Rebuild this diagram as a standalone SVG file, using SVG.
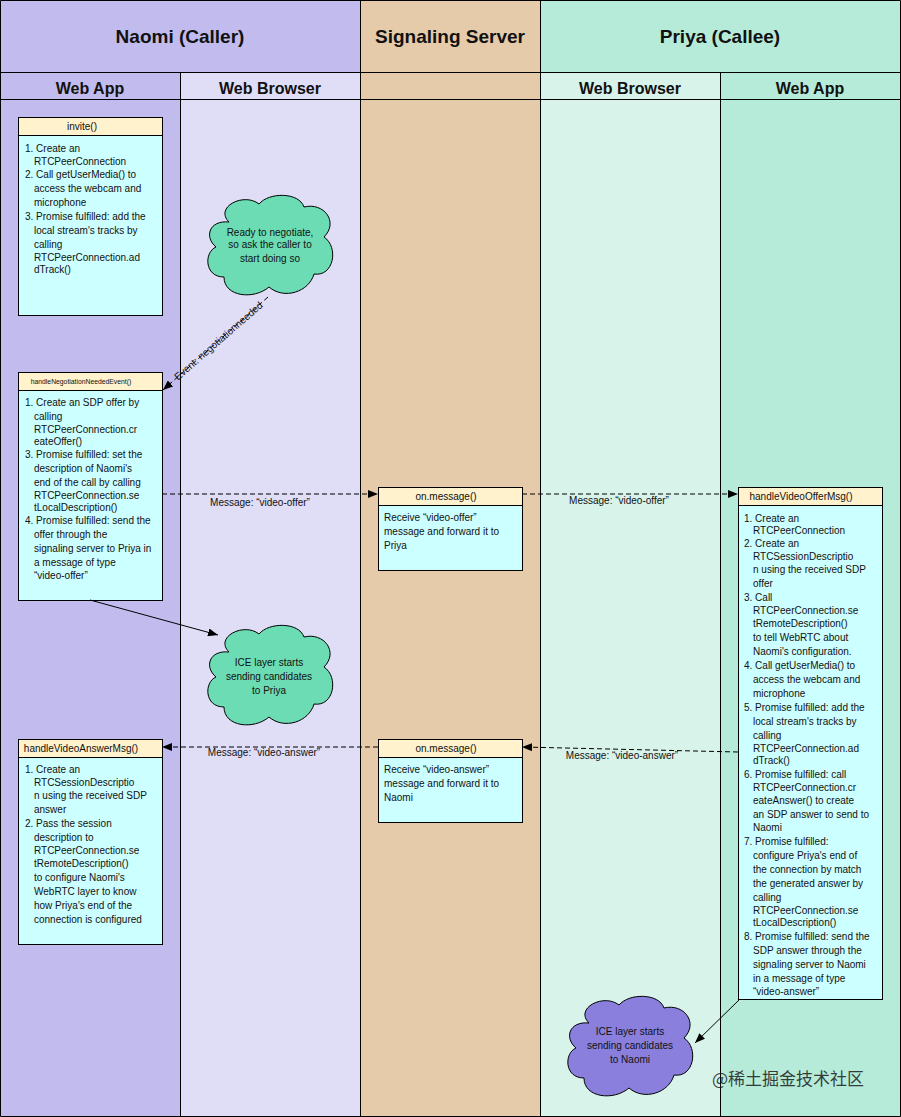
<svg xmlns="http://www.w3.org/2000/svg" width="901" height="1117" viewBox="0 0 901 1117">
<style>
text{font-family:"Liberation Sans",Arial,sans-serif;fill:#111}
.t1{font-size:19px;font-weight:bold;text-anchor:middle}
.t2{font-size:16px;font-weight:bold;text-anchor:middle}
.hd{fill:#fff2cc;stroke:#000;stroke-width:1}
.bd{fill:#ccffff;stroke:#000;stroke-width:1}
.ht{font-size:10px;text-anchor:middle}
.b{font-size:10px}
.ln{stroke:#000;stroke-width:1;fill:none}
.ds{stroke-dasharray:5,3}
.lb{font-size:10px}
.cl{stroke:#000;stroke-width:1}
</style>
<defs>
<marker id="ah" markerWidth="10" markerHeight="8" refX="10" refY="4" orient="auto" markerUnits="userSpaceOnUse"><path d="M0,0 L10,4 L0,8 Z" fill="#000"/></marker>
<path id="cloud" d="M25 30 C10 15 40 0 55 12 C65 0 95 0 100 15 C120 10 135 30 120 45 C135 55 130 85 110 82 C105 100 80 108 65 95 C50 108 20 105 20 85 C0 85 0 60 12 55 C0 45 5 28 25 30 Z"/>
</defs>
<g id="lanes">
<rect x="0" y="0" width="180" height="1117" fill="#c2bcee"/>
<rect x="180" y="0" width="180" height="1117" fill="#e0ddf7"/>
<rect x="360" y="0" width="180" height="1117" fill="#e6cbab"/>
<rect x="540" y="0" width="180" height="1117" fill="#d8f3ea"/>
<rect x="720" y="0" width="181" height="1117" fill="#b7ebd9"/>
<rect x="0" y="0" width="360" height="72" fill="#c2bcee"/>
<rect x="540" y="0" width="361" height="72" fill="#b7ebd9"/>
<g class="ln"><path d="M0.5 0.5 H900.5 V1116.5 H0.5 Z M0 72.5 H901 M0 99.5 H901 M180.5 72 V1117 M360.5 0 V1117 M540.5 0 V1117 M720.5 72 V1117"/></g>
<text class="t1" x="180" y="43">Naomi (Caller)</text>
<text class="t1" x="450" y="43">Signaling Server</text>
<text class="t1" x="720" y="43">Priya (Callee)</text>
<text class="t2" x="90" y="94">Web App</text>
<text class="t2" x="270" y="94">Web Browser</text>
<text class="t2" x="630" y="94">Web Browser</text>
<text class="t2" x="810" y="94">Web App</text>
</g>
<g id="invite">
<rect class="bd" x="18.5" y="117.5" width="144" height="198"/>
<rect class="hd" x="18.5" y="117.5" width="144" height="18"/>
<text class="ht" x="82" y="130">invite()</text>
<text class="b" x="25" y="152">1. Create an</text>
<text class="b" x="34" y="165">RTCPeerConnection</text>
<text class="b" x="25" y="178">2. Call getUserMedia() to</text>
<text class="b" x="34" y="192">access the webcam and</text>
<text class="b" x="34" y="206">microphone</text>
<text class="b" x="25" y="220">3. Promise fulfilled: add the</text>
<text class="b" x="34" y="234">local stream's tracks by</text>
<text class="b" x="34" y="248">calling</text>
<text class="b" x="34" y="261">RTCPeerConnection.ad</text>
<text class="b" x="34" y="273">dTrack()</text>
</g>
<g id="cloudReady">
<use href="#cloud" transform="translate(204,192)" fill="#6cdcb4" class="cl"/>
<text class="lb" x="270" y="236" text-anchor="middle">Ready to negotiate,</text>
<text class="lb" x="270" y="248" text-anchor="middle">so ask the caller to</text>
<text class="lb" x="270" y="262" text-anchor="middle">start doing so</text>
</g>
<g id="negotiation">
<rect class="bd" x="18.5" y="372.5" width="144" height="228"/>
<rect class="hd" x="18.5" y="372.5" width="144" height="18"/>
<text x="81" y="384" font-size="6.8" text-anchor="middle">handleNegotiationNeededEvent()</text>
<text class="b" x="25" y="406">1. Create an SDP offer by</text>
<text class="b" x="34" y="420">calling</text>
<text class="b" x="34" y="433">RTCPeerConnection.cr</text>
<text class="b" x="34" y="445">eateOffer()</text>
<text class="b" x="25" y="458">3. Promise fulfilled: set the</text>
<text class="b" x="34" y="472">description of Naomi's</text>
<text class="b" x="34" y="486">end of the call by calling</text>
<text class="b" x="34" y="499">RTCPeerConnection.se</text>
<text class="b" x="34" y="511">tLocalDescription()</text>
<text class="b" x="25" y="524">4. Promise fulfilled: send the</text>
<text class="b" x="34" y="538">offer through the</text>
<text class="b" x="34" y="552">signaling server to Priya in</text>
<text class="b" x="34" y="566">a message of type</text>
<text class="b" x="34" y="579">“video-offer”</text>
</g>
<g id="onMessageOffer">
<rect class="bd" x="378.5" y="487.5" width="144" height="83"/>
<rect class="hd" x="378.5" y="487.5" width="144" height="18"/>
<text class="ht" x="446" y="500">on.message()</text>
<text class="b" x="384" y="521">Receive “video-offer”</text>
<text class="b" x="384" y="535">message and forward it to</text>
<text class="b" x="384" y="549">Priya</text>
</g>
<g id="videoOffer">
<rect class="bd" x="738.5" y="487.5" width="144" height="512"/>
<rect class="hd" x="738.5" y="487.5" width="144" height="18"/>
<text class="ht" x="801" y="500">handleVideoOfferMsg()</text>
<text class="b" x="744" y="522">1. Create an</text>
<text class="b" x="753" y="534">RTCPeerConnection</text>
<text class="b" x="744" y="547">2. Create an</text>
<text class="b" x="753" y="560">RTCSessionDescriptio</text>
<text class="b" x="753" y="573">n using the received SDP</text>
<text class="b" x="753" y="587">offer</text>
<text class="b" x="744" y="601">3. Call</text>
<text class="b" x="753" y="614">RTCPeerConnection.se</text>
<text class="b" x="753" y="627">tRemoteDescription()</text>
<text class="b" x="753" y="641">to tell WebRTC about</text>
<text class="b" x="753" y="655">Naomi's configuration.</text>
<text class="b" x="744" y="669">4. Call getUserMedia() to</text>
<text class="b" x="753" y="683">access the webcam and</text>
<text class="b" x="753" y="697">microphone</text>
<text class="b" x="744" y="711">5. Promise fulfilled: add the</text>
<text class="b" x="753" y="725">local stream's tracks by</text>
<text class="b" x="753" y="739">calling</text>
<text class="b" x="753" y="752">RTCPeerConnection.ad</text>
<text class="b" x="753" y="764">dTrack()</text>
<text class="b" x="744" y="778">6. Promise fulfilled: call</text>
<text class="b" x="753" y="791">RTCPeerConnection.cr</text>
<text class="b" x="753" y="804">eateAnswer() to create</text>
<text class="b" x="753" y="818">an SDP answer to send to</text>
<text class="b" x="753" y="831">Naomi</text>
<text class="b" x="744" y="845">7. Promise fulfilled:</text>
<text class="b" x="753" y="859">configure Priya's end of</text>
<text class="b" x="753" y="873">the connection by match</text>
<text class="b" x="753" y="887">the generated answer by</text>
<text class="b" x="753" y="901">calling</text>
<text class="b" x="753" y="914">RTCPeerConnection.se</text>
<text class="b" x="753" y="926">tLocalDescription()</text>
<text class="b" x="744" y="940">8. Promise fulfilled: send the</text>
<text class="b" x="753" y="954">SDP answer through the</text>
<text class="b" x="753" y="968">signaling server to Naomi</text>
<text class="b" x="753" y="982">in a message of type</text>
<text class="b" x="753" y="995">“video-answer”</text>
</g>
<g id="cloudIce1">
<use href="#cloud" transform="translate(204,622)" fill="#6cdcb4" class="cl"/>
<text class="lb" x="269" y="666" text-anchor="middle">ICE layer starts</text>
<text class="lb" x="269" y="680" text-anchor="middle">sending candidates</text>
<text class="lb" x="269" y="694" text-anchor="middle">to Priya</text>
</g>
<g id="videoAnswer">
<rect class="bd" x="18.5" y="739.5" width="144" height="205"/>
<rect class="hd" x="18.5" y="739.5" width="144" height="18"/>
<text class="ht" x="81" y="752">handleVideoAnswerMsg()</text>
<text class="b" x="25" y="773">1. Create an</text>
<text class="b" x="34" y="786">RTCSessionDescriptio</text>
<text class="b" x="34" y="799">n using the received SDP</text>
<text class="b" x="34" y="813">answer</text>
<text class="b" x="25" y="827">2. Pass the session</text>
<text class="b" x="34" y="841">description to</text>
<text class="b" x="34" y="854">RTCPeerConnection.se</text>
<text class="b" x="34" y="867">tRemoteDescription()</text>
<text class="b" x="34" y="881">to configure Naomi's</text>
<text class="b" x="34" y="895">WebRTC layer to know</text>
<text class="b" x="34" y="909">how Priya's end of the</text>
<text class="b" x="34" y="923">connection is configured</text>
</g>
<g id="onMessageAnswer">
<rect class="bd" x="378.5" y="739.5" width="144" height="83"/>
<rect class="hd" x="378.5" y="739.5" width="144" height="18"/>
<text class="ht" x="446" y="752">on.message()</text>
<text class="b" x="384" y="773">Receive “video-answer”</text>
<text class="b" x="384" y="787">message and forward it to</text>
<text class="b" x="384" y="801">Naomi</text>
</g>
<g id="cloudIce2">
<use href="#cloud" transform="translate(564,993)" fill="#8a7fdd" class="cl"/>
<text class="lb" x="630" y="1035" text-anchor="middle">ICE layer starts</text>
<text class="lb" x="630" y="1049" text-anchor="middle">sending candidates</text>
<text class="lb" x="630" y="1063" text-anchor="middle">to Naomi</text>
</g>
<g id="connectors">
<path class="ln ds" d="M268 297 L163 390" marker-end="url(#ah)"/>
<text class="lb" transform="translate(222,345) rotate(-41)" text-anchor="middle" dy="-2">Event: negotiationneeded</text>
<path class="ln ds" d="M162 494 L378 494" marker-end="url(#ah)"/>
<text class="lb" x="260" y="506" text-anchor="middle">Message: “video-offer”</text>
<path class="ln ds" d="M522 494 L738 494" marker-end="url(#ah)"/>
<text class="lb" x="619" y="504" text-anchor="middle">Message: “video-offer”</text>
<path class="ln" d="M90 600 L218 635" marker-end="url(#ah)"/>
<path class="ln ds" d="M738 752 L522 747" marker-end="url(#ah)"/>
<text class="lb" x="622" y="759" text-anchor="middle">Message: “video-answer”</text>
<path class="ln ds" d="M378 747 L162 747" marker-end="url(#ah)"/>
<text class="lb" x="264" y="756" text-anchor="middle">Message: “video-answer”</text>
<path class="ln" d="M739 1000 L695 1043" marker-end="url(#ah)"/>
</g>
<text x="712" y="1085" font-size="17" fill="#ffffff" opacity="0.8" style="font-family:'Noto Sans CJK SC',sans-serif">@稀土掘金技术社区</text>
</svg>
